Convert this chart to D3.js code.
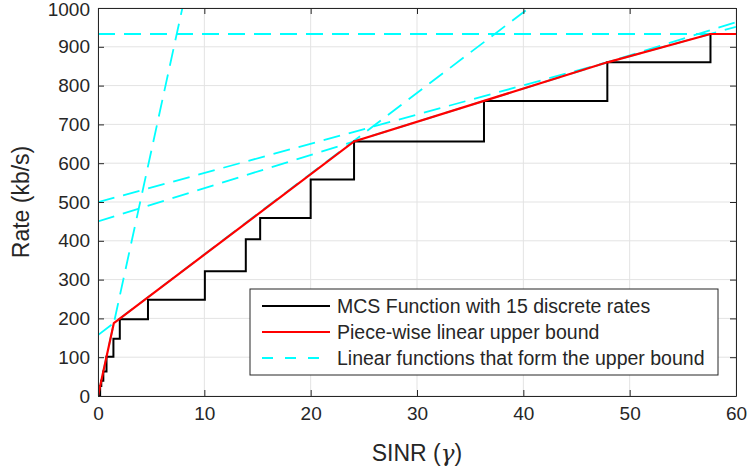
<!DOCTYPE html>
<html>
<head>
<meta charset="utf-8">
<script src="https://cdn.jsdelivr.net/npm/d3@7"></script>
<style>
    body { margin: 0; background: #fff; }
    text { font-family: "Liberation Sans", Arial, sans-serif; fill: #262626; }
</style>
</head>
<body>
<svg id="chart" width="747" height="469"></svg>
<script>
// MCS step function: SINR thresholds and the rate reached at each one
var mcsSinr = [0.2, 0.31, 0.5, 0.8, 1.45, 2.05, 4.7, 10.05, 13.9, 15.25, 20.0, 24.08, 36.3, 47.9, 57.6];
var mcsRate = [25.6, 39.4, 63.3, 101, 147.5, 197.5, 248, 321.6, 404, 458.7, 558, 656, 760, 860, 933];

// piece-wise linear upper bound (vertices)
var boundSinr = [0, 1.49, 24.08, 47.9, 57.6, 60];
var boundRate = [0, 188, 656, 860, 933, 933];

// the linear functions forming the bound: rate = slope * sinr + intercept
var lineSlope = [126, 20.8, 8.56, 7.53, 0];
var lineIntercept = [0, 157, 450, 499.5, 933];

var xTicks = [0, 10, 20, 30, 40, 50, 60];
var yTicks = [0, 100, 200, 300, 400, 500, 600, 700, 800, 900, 1000];

var legendLabels = [
    "MCS Function with 15 discrete rates",
    "Piece-wise linear upper bound",
    "Linear functions that form the upper bound"
];

var margin = {left: 98, top: 8, right: 11, bottom: 73};
var width = 747 - margin.left - margin.right,
    height = 469 - margin.top - margin.bottom;

var svg = d3.select("#chart");

var xScale = d3.scaleLinear().domain([0, 60]).range([0, width]);
var yScale = d3.scaleLinear().domain([0, 1000]).range([height, 0]);

var g = svg.append("g")
    .attr("transform", `translate(${margin.left}, ${margin.top})`);

g.append("clipPath").attr("id", "plot-clip")
    .append("rect").attr("width", width).attr("height", height);

// grid
var grid = g.append("g").attr("class", "grid");
grid.selectAll("line.gx").data(xTicks).enter().append("line")
    .attr("x1", d => xScale(d)).attr("x2", d => xScale(d))
    .attr("y1", 0).attr("y2", height)
    .attr("stroke", "#e3e3e3").attr("stroke-width", 1);
grid.selectAll("line.gy").data(yTicks).enter().append("line")
    .attr("x1", 0).attr("x2", width)
    .attr("y1", d => yScale(d)).attr("y2", d => yScale(d))
    .attr("stroke", "#e3e3e3").attr("stroke-width", 1);

var plot = g.append("g").attr("clip-path", "url(#plot-clip)");

// dashed linear functions
var lineData = lineSlope.map(function (s, i) {
    return [[0, lineIntercept[i]], [60, s * 60 + lineIntercept[i]]];
});

var line = d3.line()
    .x(d => xScale(d[0]))
    .y(d => yScale(d[1]));

plot.selectAll("path.lin").data(lineData).enter().append("path")
    .attr("class", "lin")
    .attr("d", line)
    .attr("fill", "none")
    .attr("stroke", "#00ffff")
    .attr("stroke-width", 1.8)
    .attr("stroke-dasharray", "17,9");

// step function
var stepPts = [[0, 0]].concat(mcsSinr.map((s, i) => [s, mcsRate[i]]));
stepPts.push([60, mcsRate[mcsRate.length - 1]]);

plot.append("path")
    .attr("d", d3.line().x(d => xScale(d[0])).y(d => yScale(d[1])).curve(d3.curveStepAfter)(stepPts))
    .attr("fill", "none")
    .attr("stroke", "#000")
    .attr("stroke-width", 2);

// upper bound
plot.append("path")
    .attr("d", line(boundSinr.map((s, i) => [s, boundRate[i]])))
    .attr("fill", "none")
    .attr("stroke", "#ff0000")
    .attr("stroke-width", 2.2);

// axes (box with inward ticks)
var axisColor = "#262626";

var axisBottom = d3.axisBottom(xScale).tickValues(xTicks).tickSizeInner(-6).tickSizeOuter(0).tickPadding(11);
var axisLeft = d3.axisLeft(yScale).tickValues(yTicks).tickFormat(d3.format("d"))
    .tickSizeInner(-6).tickSizeOuter(0).tickPadding(8);
var axisTop = d3.axisTop(xScale).tickValues(xTicks).tickSizeInner(-6).tickSizeOuter(0).tickFormat("");
var axisRight = d3.axisRight(yScale).tickValues(yTicks).tickSizeInner(-6).tickSizeOuter(0).tickFormat("");

function styleAxis(sel) {
    sel.selectAll("path, line").attr("stroke", axisColor).attr("stroke-width", 1);
    sel.selectAll("text").attr("font-size", 19).attr("fill", axisColor)
        .style("font-family", "'Liberation Sans', Arial, sans-serif");
}

g.append("g").attr("transform", `translate(0, ${height})`).call(axisBottom).call(styleAxis);
var leftAxis = g.append("g").call(axisLeft).call(styleAxis);
// keep the top label inside the picture
leftAxis.selectAll(".tick text").filter(d => d === 1000).attr("dy", "0.42em");
g.append("g").call(axisTop).call(styleAxis);
g.append("g").attr("transform", `translate(${width}, 0)`).call(axisRight).call(styleAxis);

// axis labels
var xLabel = g.append("text")
    .attr("x", width / 2).attr("y", height + 65)
    .attr("text-anchor", "middle").attr("font-size", 23);
xLabel.append("tspan").text("SINR (");
xLabel.append("tspan").attr("font-style", "italic").attr("font-family", "'DejaVu Serif', serif").text("γ");
xLabel.append("tspan").text(")");

g.append("text")
    .attr("transform", `translate(-69, ${height / 2}) rotate(-90)`)
    .attr("text-anchor", "middle").attr("font-size", 23)
    .text("Rate (kb/s)");

// legend
var legend = g.append("g").attr("transform", `translate(${250 - margin.left}, ${289 - margin.top})`);
legend.append("rect")
    .attr("width", 468).attr("height", 86)
    .attr("fill", "#fff").attr("stroke", axisColor).attr("stroke-width", 1);

var legendStyles = [
    {color: "#000", dash: null},
    {color: "#ff0000", dash: null},
    {color: "#00ffff", dash: "11,12"}
];

legendLabels.forEach(function (label, i) {
    var yy = 17 + i * 26;
    legend.append("line")
        .attr("x1", 12).attr("x2", 80).attr("y1", yy).attr("y2", yy)
        .attr("stroke", legendStyles[i].color)
        .attr("stroke-width", legendStyles[i].dash ? 1.8 : 2)
        .attr("stroke-dasharray", legendStyles[i].dash);
    legend.append("text")
        .attr("x", 87).attr("y", yy).attr("dy", "0.35em")
        .attr("font-size", 19.5).attr("fill", "#000")
        .text(label);
});
</script>
</body>
</html>
